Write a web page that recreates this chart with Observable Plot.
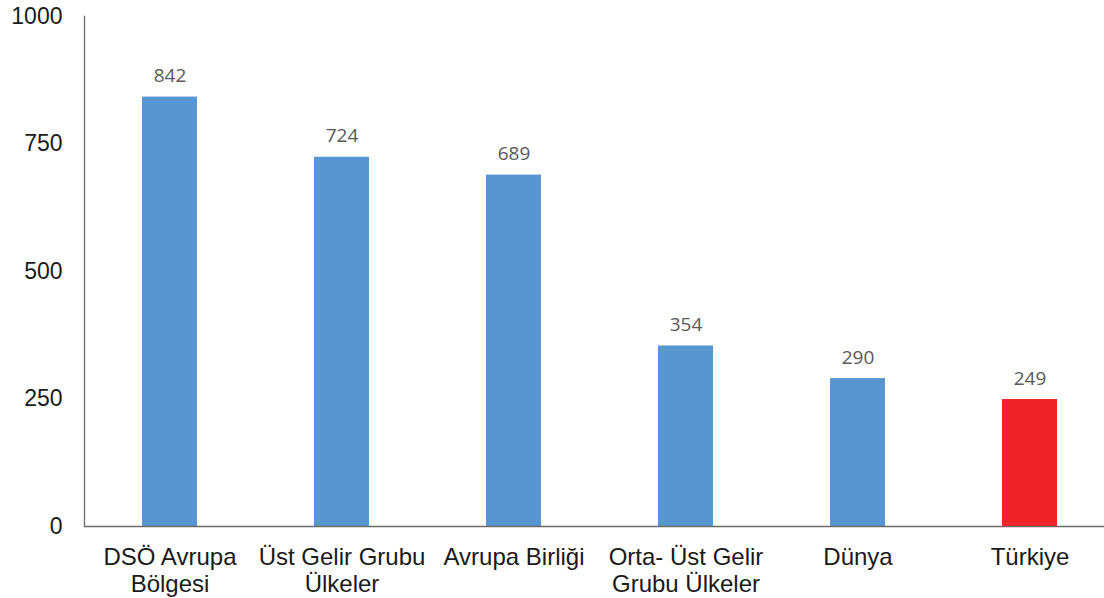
<!DOCTYPE html>
<html>
<head>
<meta charset="utf-8">
<script src="https://cdn.jsdelivr.net/npm/d3@7"></script>
<script src="https://cdn.jsdelivr.net/npm/@observablehq/plot@0.6"></script>
<style>
  html, body { margin: 0; padding: 0; background: #fff; overflow: hidden; }
</style>
</head>
<body>
<div id="chart"></div>
<script>
const categories = ["DSÖ Avrupa\nBölgesi", "Üst Gelir Grubu\nÜlkeler", "Avrupa Birliği", "Orta- Üst Gelir\nGrubu Ülkeler", "Dünya", "Türkiye"];
const values = [842, 724, 689, 354, 290, 249];
const colors = ["#5796d0", "#5796d0", "#5796d0", "#5796d0", "#5796d0", "#ee2428"];
const yTicks = [0, 250, 500, 750, 1000];

const data = categories.map((c, i) => ({name: c, value: values[i], color: colors[i]}));

const chart = Plot.plot({
  width: 1104,
  height: 598,
  marginTop: 16,
  marginBottom: 72,
  marginLeft: 84,
  marginRight: 0,
  style: {background: "#fff", overflow: "hidden"},
  x: {domain: categories, range: [84, 1116], paddingInner: 0.68, paddingOuter: 0.34, axis: null},
  y: {domain: [0, 1000], axis: null},
  marks: [
    Plot.barY(data, {x: "name", y: "value", fill: "color"}),
    Plot.frame({anchor: "left", stroke: "#6b6b6b", strokeWidth: 1.3}),
    Plot.ruleY([0], {stroke: "#6b6b6b", strokeWidth: 1.3}),
    Plot.axisY({ticks: yTicks, tickFormat: d => String(d), tickSize: 0, tickPadding: 22, fontSize: 23, fontFamily: "Liberation Sans, Arial, sans-serif", color: "#1a1a1a", label: null}),
    Plot.text(data, {x: "name", y: "value", text: d => String(d.value), dy: -21, fontSize: 19, fontFamily: "Open Sans, sans-serif", fill: "#595959"}),
    Plot.text(data, {x: "name", y: 0, text: "name", lineAnchor: "top", dy: 20, lineHeight: 1.1, fontSize: 24, fontFamily: "Liberation Sans, Arial, sans-serif", fill: "#1a1a1a"})
  ]
});
document.getElementById("chart").appendChild(chart);
</script>
</body>
</html>
